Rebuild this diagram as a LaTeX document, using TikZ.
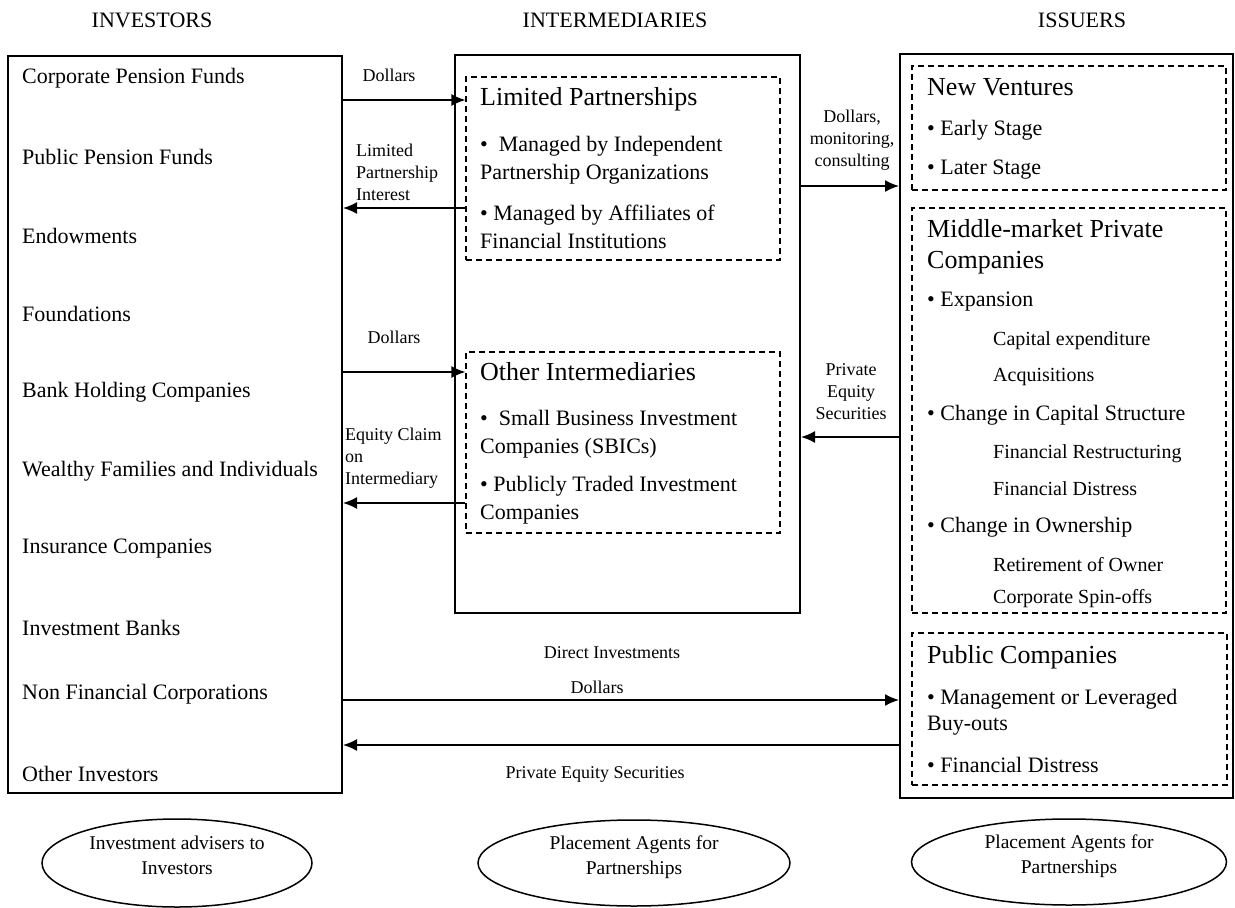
\documentclass[tikz,border=0pt]{standalone}
\usepackage{fontspec}
\setmainfont{Liberation Serif}
\usetikzlibrary{arrows.meta, shapes.geometric}

\begin{document}
\begin{tikzpicture}[
    x=1pt, y=-1pt,
    every node/.style={font=\fontsize{22}{26}\selectfont},
    frame/.style={rectangle, draw, line width=2pt, inner sep=0pt},
    group/.style={rectangle, draw, line width=1.2pt, dash pattern=on 6pt off 4pt, inner sep=0pt},
    item/.style={anchor=west, inner sep=0pt, align=left},
    bullets/.style={item, font=\fontsize{22}{28}\selectfont},
    head/.style={item, font=\fontsize{26}{31}\selectfont},
    sub/.style={item, font=\fontsize{20}{24}\selectfont},
    lbl/.style={inner sep=0pt, align=center, font=\fontsize{18}{22}\selectfont},
    agent/.style={ellipse, draw, line width=1.5pt, inner sep=0pt, align=center, text depth=16pt, font=\fontsize{19.5}{25}\selectfont},
    arrow/.style={-{Latex[length=14pt, width=12pt]}, line width=1.6pt}
  ]
    \useasboundingbox (0,0) rectangle (1235,908);

    % column heads
    \node (hinv) at (152,20) {INVESTORS};
    \node (hint) at (615,20) {INTERMEDIARIES};
    \node (hiss) at (1082,20) {ISSUERS};

    % investors
    \node[frame, minimum width=334pt, minimum height=737pt] (inv) at (175,424.5) {};
    \node[item] (i1) at (22,78) {Corporate Pension Funds};
    \node[item] (i2) at (22,157) {Public Pension Funds};
    \node[item] (i3) at (22,236) {Endowments};
    \node[item] (i4) at (22,314) {Foundations};
    \node[item] (i5) at (22,392) {Bank Holding Companies};
    \node[item] (i6) at (22,471) {Wealthy Families and Individuals};
    \node[item] (i7) at (22,549) {Insurance Companies};
    \node[item] (i8) at (22,628) {Investment Banks};
    \node[item] (i9) at (22,694) {Non Financial Corporations};
    \node[item] (i10) at (22,774) {Other Investors};

    % intermediaries
    \node[frame, minimum width=345pt, minimum height=558pt] (intm) at (627.5,334) {};
    \node[group, minimum width=314pt, minimum height=183pt] (lp) at (623,168.5) {};
    \node[head] (lptitle) at (480,99) {Limited Partnerships};
    \node[bullets] (lpb1) at (480,160.5) {\textbullet~~Managed by Independent\\Partnership Organizations};
    \node[bullets] (lpb2) at (480,226.5) {\textbullet~Managed by Affiliates of\\Financial Institutions};

    \node[group, minimum width=314pt, minimum height=181pt] (oth) at (623,442.5) {};
    \node[head] (othtitle) at (480,372) {Other Intermediaries};
    \node[bullets] (othb1) at (480,434) {\textbullet~~Small Business Investment\\Companies (SBICs)};
    \node[bullets] (othb2) at (480,500) {\textbullet~Publicly Traded Investment\\Companies};

    % issuers
    \node[frame, minimum width=333pt, minimum height=744pt] (iss) at (1066.5,426) {};
    \node[group, minimum width=314pt, minimum height=124pt] (nv) at (1069,128) {};
    \node[head] (nvtitle) at (927,87) {New Ventures};
    \node[item] (nv1) at (927,130) {\textbullet~Early Stage};
    \node[item] (nv2) at (927,170) {\textbullet~Later Stage};

    \node[group, minimum width=314pt, minimum height=405pt] (mm) at (1069,410.5) {};
    \node[head] (mmtitle) at (927,246.5) {Middle-market Private\\Companies};
    \node[item] (mm1) at (927,302) {\textbullet~Expansion};
    \node[sub] (mm1a) at (993,341) {Capital expenditure};
    \node[sub] (mm1b) at (993,377) {Acquisitions};
    \node[item] (mm2) at (927,415) {\textbullet~Change in Capital Structure};
    \node[sub] (mm2a) at (993,454) {Financial Restructuring};
    \node[sub] (mm2b) at (993,489) {Financial Distress};
    \node[item] (mm3) at (927,527) {\textbullet~Change in Ownership};
    \node[sub] (mm3a) at (993,565) {Retirement of Owner};
    \node[sub] (mm3b) at (993,599) {Corporate Spin-offs};

    \node[group, minimum width=315pt, minimum height=152pt] (pub) at (1069.5,709) {};
    \node[head] (pubtitle) at (927,657) {Public Companies};
    \node[bullets, font=\fontsize{22}{26}\selectfont] (pub1) at (927,712) {\textbullet~Management or Leveraged\\Buy-outs};
    \node[item] (pub2) at (927,765) {\textbullet~Financial Distress};

    % flows
    \draw[arrow] (inv.east |- 0,100) -- (lp.west |- 0,100);
    \node[lbl] (l1) at (389,75) {Dollars};
    \draw[arrow] (lp.west |- 0,208) -- (inv.east |- 0,208);
    \node[lbl, align=left, anchor=west] (l2) at (356,172) {Limited\\Partnership\\Interest};

    \draw[arrow] (inv.east |- 0,372) -- (oth.west |- 0,372);
    \node[lbl] (l3) at (394,337) {Dollars};
    \draw[arrow] (oth.west |- 0,503) -- (inv.east |- 0,503);
    \node[lbl, align=left, anchor=west] (l4) at (345,458) {Equity Claim\\on\\Intermediary};

    \draw[arrow] (intm.east |- 0,186) -- (iss.west |- 0,186);
    \node[lbl] (l5) at (852,140) {Dollars,\\monitoring,\\consulting};
    \draw[arrow] (iss.west |- 0,437) -- (intm.east |- 0,437);
    \node[lbl] (l6) at (851,392) {Private\\Equity\\Securities};

    \draw[arrow] (inv.east |- 0,700) -- (iss.west |- 0,700);
    \node[lbl] (l7) at (612,653) {Direct Investments};
    \node[lbl] (l8) at (597,687) {Dollars};
    \draw[arrow] (iss.west |- 0,745) -- (inv.east |- 0,745);
    \node[lbl] (l9) at (595,774) {Private Equity Securities};

    % agents
    \node[agent, minimum width=270pt, minimum height=88pt] (adv) at (177,863) {Investment advisers to\\Investors};
    \node[agent, minimum width=312pt, minimum height=86pt] (pa1) at (634,863) {Placement Agents for\\Partnerships};
    \node[agent, minimum width=315pt, minimum height=86pt] (pa2) at (1069,862) {Placement Agents for\\Partnerships};
  \end{tikzpicture}
\end{document}
